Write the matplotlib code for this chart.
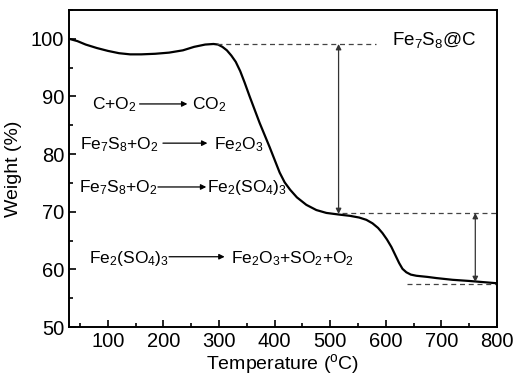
import matplotlib.pyplot as plt
from matplotlib.ticker import MultipleLocator

plt.rcParams['font.family'] = ['Liberation Sans', 'DejaVu Sans']
plt.rcParams['mathtext.fontset'] = 'custom'
plt.rcParams['mathtext.rm'] = 'Liberation Sans'
plt.rcParams['mathtext.it'] = 'Liberation Sans'
plt.rcParams['mathtext.default'] = 'rm'

# TGA curve
temp = [30, 45, 60, 80, 100, 120, 140, 160, 185, 210, 235, 255, 275, 290,
        298, 306, 314, 322, 330, 338, 346, 355, 364, 373, 382, 391, 400,
        409, 418, 428, 440, 457, 475, 493, 517,
        535, 552, 565, 576, 586, 594, 602, 610, 617, 624, 630, 637, 645,
        655, 675, 691, 720, 750, 775, 800]
weight = [100.0, 99.6, 99.0, 98.4, 97.9, 97.5, 97.3, 97.3, 97.4, 97.6, 98.0,
          98.6, 99.0, 99.1, 99.0, 98.6, 98.0, 97.1, 96.0, 94.4, 92.4, 90.0,
          87.7, 85.4, 83.3, 81.2, 79.0, 76.8, 75.1, 73.8, 72.5, 71.2, 70.3,
          69.8, 69.5, 69.3, 69.0, 68.6, 68.0, 67.2, 66.3,
          65.2, 63.9, 62.5, 61.1, 60.1, 59.5, 59.1, 58.9, 58.7, 58.5, 58.2,
          58.0, 57.8, 57.6]

# guide levels
level_top = 99.1
level_mid = 69.8
level_end = 57.5

fig = plt.figure(figsize=(5.15, 3.83), dpi=100)
ax = fig.add_axes([0.134, 0.146, 0.831, 0.828])

ax.plot(temp, weight, color='black', lw=1.6)

dash = dict(color='#444444', lw=0.9, ls=(0, (4, 3)))
ax.plot([296, 583], [level_top, level_top], **dash)
ax.plot([522, 800], [level_mid, level_mid], **dash)
ax.plot([638, 800], [level_end, level_end], **dash)

dbl = dict(arrowstyle='<|-|>', color='#333333', lw=0.9, mutation_scale=8,
           shrinkA=0, shrinkB=0)
ax.annotate('', xy=(515, level_top), xytext=(515, 69.6), arrowprops=dbl)
ax.annotate('', xy=(761, level_mid), xytext=(761, 57.8), arrowprops=dbl)

fs = 12.5
one = dict(arrowstyle='-|>', color='black', lw=0.9, mutation_scale=8,
           shrinkA=0, shrinkB=0)

ax.text(71, 87.85, 'C+O$_2$', fontsize=fs, va='baseline')
ax.annotate('', xy=(243, 88.7), xytext=(157, 88.7), arrowprops=one)
ax.text(252, 87.85, 'CO$_2$', fontsize=fs, va='baseline')

ax.text(50, 80.9, 'Fe$_7$S$_8$+O$_2$', fontsize=fs, va='baseline')
ax.annotate('', xy=(279, 81.9), xytext=(199, 81.9), arrowprops=one)
ax.text(290, 80.9, 'Fe$_2$O$_3$', fontsize=fs, va='baseline')

ax.text(48, 73.4, 'Fe$_7$S$_8$+O$_2$', fontsize=fs, va='baseline')
ax.annotate('', xy=(277, 74.3), xytext=(190, 74.3), arrowprops=one)
ax.text(279, 73.4, 'Fe$_2$(SO$_4$)$_3$', fontsize=fs, va='baseline')

ax.text(66, 61.1, 'Fe$_2$(SO$_4$)$_3$', fontsize=fs, va='baseline')
ax.annotate('', xy=(310, 62.2), xytext=(210, 62.2), arrowprops=one)
ax.text(322, 61.1, 'Fe$_2$O$_3$+SO$_2$+O$_2$', fontsize=fs, va='baseline')

ax.text(611, 98.96, 'Fe$_7$S$_8$@C', fontsize=13.5, va='baseline')

ax.set_xlim(30, 800)
ax.set_ylim(50, 105)
ax.xaxis.set_major_locator(MultipleLocator(100))
ax.xaxis.set_minor_locator(MultipleLocator(50))
ax.yaxis.set_major_locator(MultipleLocator(10))
ax.yaxis.set_minor_locator(MultipleLocator(5))
ax.set_yticks([50, 60, 70, 80, 90, 100])
ax.tick_params(which='both', direction='in', top=False, right=False,
               labelsize=14.5, width=1.2)
ax.tick_params(which='major', length=5)
ax.tick_params(which='minor', length=3)
for s in ax.spines.values():
    s.set_linewidth(1.4)

ax.set_xlabel('Temperature ($^{\\rm o}$C)', fontsize=14, labelpad=1)
ax.set_ylabel('Weight (%)', fontsize=14, labelpad=6)

fig.savefig('out.png', dpi=100)
